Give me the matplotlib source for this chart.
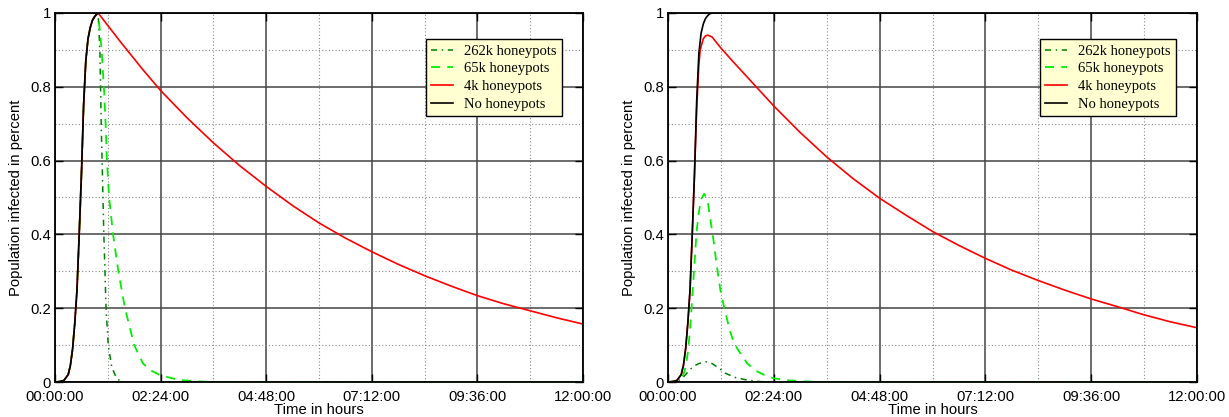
import numpy as np
import matplotlib
matplotlib.use("Agg")
import matplotlib.pyplot as plt
from matplotlib.ticker import FuncFormatter, MultipleLocator

# ---- data (time in hours, fraction infected) ----
# left panel: shared rising part of all curves
left_rise_t = [0, 0.1, 0.2, 0.3, 0.35, 0.4, 0.45, 0.5, 0.55, 0.6, 0.65, 0.7, 0.75, 0.8, 0.85, 0.9, 0.95, 0.98]
left_rise_v = [0, 0.001, 0.004, 0.02, 0.045, 0.09, 0.16, 0.25, 0.4, 0.56, 0.75, 0.87, 0.93, 0.96, 0.98, 0.99, 0.997, 1.0]

left_none_t = [12.0]
left_none_v = [1.0]
left_4k_t = [1.5, 2.0, 2.4, 3.0, 3.6, 4.2, 4.8, 5.4, 6.0, 6.6, 7.2, 7.8, 8.4, 9.0, 9.6, 10.2, 10.8, 11.4, 12.0]
left_4k_v = [0.92, 0.846, 0.79, 0.716, 0.648, 0.586, 0.53, 0.478, 0.431, 0.39, 0.353, 0.319, 0.288, 0.26, 0.234, 0.212, 0.193, 0.174, 0.157]
left_65k_t = [1.06, 1.12, 1.15, 1.18, 1.23, 1.32, 1.44, 1.59, 1.8, 2.0, 2.2, 2.4, 2.8, 3.2, 3.6, 12.0]
left_65k_v = [0.9, 0.78, 0.7, 0.6, 0.5, 0.4, 0.3, 0.2, 0.1, 0.05, 0.03, 0.018, 0.006, 0.002, 0, 0]
left_262k_t = [1.02, 1.05, 1.07, 1.11, 1.16, 1.21, 1.29, 1.4, 1.52, 12.0]
left_262k_v = [0.9, 0.7, 0.6, 0.4, 0.2, 0.1, 0.04, 0.01, 0, 0]

# right panel
right_none_t = [0, 0.1, 0.2, 0.3, 0.35, 0.4, 0.45, 0.5, 0.55, 0.6, 0.65, 0.7, 0.75, 0.8, 0.85, 0.9, 0.95, 1.01, 12.0]
right_none_v = [0, 0.001, 0.004, 0.02, 0.045, 0.09, 0.16, 0.25, 0.4, 0.56, 0.76, 0.89, 0.945, 0.97, 0.985, 0.993, 0.998, 1.0, 1.0]
right_4k_t = [0, 0.1, 0.2, 0.3, 0.35, 0.4, 0.45, 0.5, 0.55, 0.6, 0.65, 0.7, 0.73, 0.8, 0.85, 0.9, 1.0, 1.2, 1.5, 2.0, 2.4,
              3.0, 3.6, 4.2, 4.8, 5.4, 6.0, 6.6, 7.2, 7.8, 8.4, 9.0, 9.6, 10.2, 10.8, 11.4, 12.0]
right_4k_v = [0, 0.001, 0.004, 0.02, 0.045, 0.09, 0.16, 0.25, 0.4, 0.56, 0.74, 0.86, 0.9, 0.93, 0.938, 0.94, 0.935, 0.905, 0.865, 0.8, 0.748,
              0.676, 0.61, 0.551, 0.498, 0.452, 0.408, 0.37, 0.335, 0.303, 0.275, 0.249, 0.225, 0.204, 0.182, 0.163, 0.147]
right_65k_t = [0, 0.2, 0.3, 0.35, 0.4, 0.45, 0.5, 0.55, 0.6, 0.65, 0.7, 0.75, 0.82, 0.9, 0.95, 1.0, 1.05, 1.1, 1.15, 1.2,
               1.3, 1.4, 1.5, 1.6, 1.8, 2.0, 2.2, 2.4, 2.7, 3.0, 3.5, 12.0]
right_65k_v = [0, 0.003, 0.01, 0.02, 0.04, 0.08, 0.14, 0.23, 0.32, 0.41, 0.46, 0.495, 0.51, 0.49, 0.45, 0.41, 0.37, 0.32, 0.28, 0.24,
               0.19, 0.14, 0.105, 0.085, 0.05, 0.03, 0.018, 0.01, 0.005, 0.002, 0, 0]
right_262k_t = [0, 0.2, 0.3, 0.4, 0.5, 0.6, 0.7, 0.85, 1.0, 1.15, 1.3, 1.5, 1.8, 2.1, 2.4, 12.0]
right_262k_v = [0, 0.002, 0.008, 0.02, 0.034, 0.044, 0.05, 0.055, 0.05, 0.038, 0.024, 0.013, 0.005, 0.001, 0, 0]

labels = ["262k honeypots", "65k honeypots", "4k honeypots", "No honeypots"]
xticks_h = [0, 2.4, 4.8, 7.2, 9.6, 12.0]

plt.rcParams["font.family"] = ["Liberation Sans", "DejaVu Sans"]
FS = 10.7


def hms(sec, pos=None):
    sec = int(round(sec))
    return "%02d:%02d:%02d" % (sec // 3600, (sec % 3600) // 60, sec % 60)


def draw(ax, series):
    styles = [
        dict(color="#008000", lw=1.1, dashes=(4, 3, 1, 3)),
        dict(color="#00ee00", lw=1.3, dashes=(5, 4)),
        dict(color="#ff0000", lw=1.2),
        dict(color="#000000", lw=1.2),
    ]
    for (t, v), lab, st in zip(series, labels, styles):
        ax.plot(np.array(t) * 3600, v, label=lab, zorder=3, **st)

    ax.set_xlim(0, 12 * 3600)
    ax.set_ylim(0, 1)
    ax.set_xticks([h * 3600 for h in xticks_h])
    ax.xaxis.set_major_formatter(FuncFormatter(hms))
    ax.xaxis.set_minor_locator(MultipleLocator(1.2 * 3600))
    ax.yaxis.set_major_locator(MultipleLocator(0.2))
    ax.yaxis.set_minor_locator(MultipleLocator(0.1))
    ax.yaxis.set_major_formatter(FuncFormatter(lambda y, p: "%g" % round(y, 1)))

    ax.grid(which="major", color="#444444", lw=1.1, ls="-")
    ax.grid(which="minor", color="#8a8a8a", lw=0.8, ls=(0, (1, 2)))
    ax.set_axisbelow(True)
    ax.tick_params(axis="x", which="major", pad=6)
    ax.tick_params(axis="y", which="major", pad=3)
    ax.tick_params(which="major", direction="in", length=6, width=1,
                   top=True, right=True, labelsize=FS)
    ax.tick_params(which="minor", length=0)
    for s in ax.spines.values():
        s.set_linewidth(1.3)
        s.set_zorder(4)

    ax.set_xlabel("Time in hours", fontsize=FS, labelpad=-1)
    ax.set_ylabel("Population infected in percent", fontsize=FS, labelpad=5)

    leg = ax.legend(loc="upper right", bbox_to_anchor=(0.960, 0.93),
                    prop={"family": "Liberation Serif", "size": 10.5},
                    fancybox=False, framealpha=1, edgecolor="black",
                    facecolor="#ffffd2", handlelength=1.5, labelspacing=0.3,
                    borderpad=0.4, handletextpad=0.7, borderaxespad=0)
    leg.get_frame().set_linewidth(1.0)
    leg.set_zorder(5)


fig = plt.figure(figsize=(12.29, 4.17), dpi=100)
ax1 = fig.add_axes([55 / 1229, 35 / 417, 528 / 1229, 369 / 417])
ax2 = fig.add_axes([668 / 1229, 35 / 417, 529 / 1229, 369 / 417])

left_series = [
    (left_rise_t + left_262k_t, left_rise_v + left_262k_v),
    (left_rise_t + left_65k_t, left_rise_v + left_65k_v),
    (left_rise_t + left_4k_t, left_rise_v + left_4k_v),
    (left_rise_t + left_none_t, left_rise_v + left_none_v),
]
right_series = [
    (right_262k_t, right_262k_v),
    (right_65k_t, right_65k_v),
    (right_4k_t, right_4k_v),
    (right_none_t, right_none_v),
]
draw(ax1, left_series)
draw(ax2, right_series)

fig.savefig("out.png", dpi=100)
